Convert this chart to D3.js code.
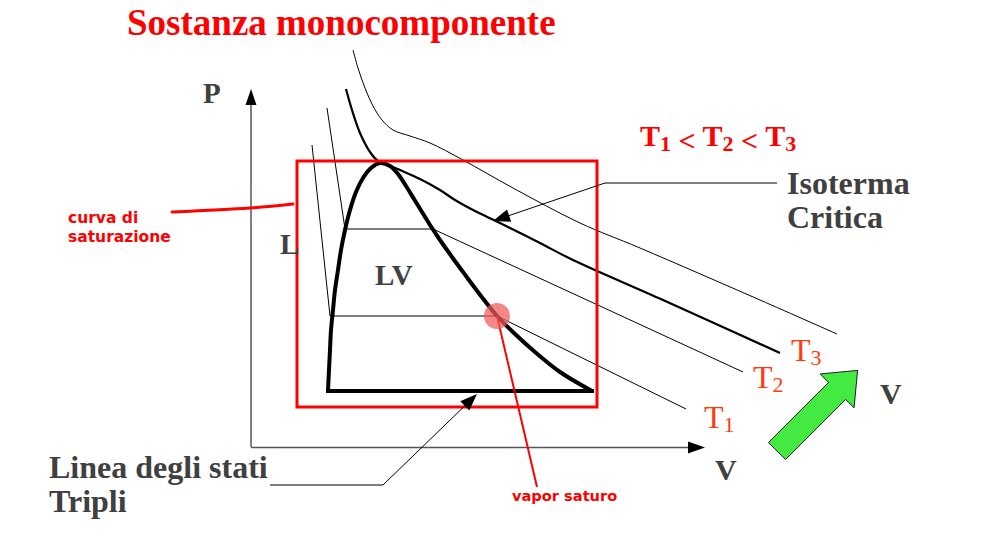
<!DOCTYPE html>
<html><head><meta charset="utf-8">
<script src="https://cdn.jsdelivr.net/npm/d3@7"></script>
<style>html,body{margin:0;padding:0;background:#fff;} svg{display:block;}</style>
</head><body><svg id="c" width="992" height="545"></svg>
<script>
// ---- data (abstract V, P units) ----
const saturationLeft = [[7.7,5.6],[7.8,7.7],[7.9,9.7],[8.0,11.7],[8.2,13.7],[8.4,15.7],[8.7,17.7],[9.0,19.7],[9.4,21.7],[9.9,23.7],[10.5,25.5],[11.2,26.9],[12.0,27.9],[12.9,28.4]];
const saturationRight = [[12.9,28.4],[13.9,28.1],[14.7,27.3],[15.5,26.1],[16.3,24.8],[17.1,23.5],[17.9,22.2],[18.9,20.7],[20.1,19.0],[21.5,17.1],[23.0,15.1],[24.6,13.1],[26.4,11.3],[28.4,9.5],[30.9,7.5],[34.1,5.6]];
const tripleLine = [[7.7,5.6],[34.1,5.6]];
const isothermT1 = [[6.1,30.2],[7.9,13.1],[24.6,13.1],[43.5,3.8]];
const isothermT2 = [[7.6,33.9],[9.4,21.8],[18.2,21.8],[49.2,7.5]];
const isothermCritical = [[9.5,35.8],[10.1,33.7],[10.9,31.4],[11.9,29.5],[12.7,28.6],[13.5,28.3],[14.9,27.7],[16.9,26.8],[18.9,25.7],[20.4,24.7],[22.4,23.6],[24.9,22.4],[28.9,20.4],[32.2,18.7],[41.2,14.7],[52.9,9.4]];
const isothermT3 = [[10.2,39.7],[10.7,37.9],[11.4,35.9],[12.2,34.1],[13.1,32.7],[14.2,31.7],[15.9,31.1],[17.9,30.4],[21.2,28.7],[26.2,25.9],[32.9,22.4],[38.9,19.9],[50.9,14.7],[58.6,11.3]];
const saturatedVapour = [24.6,13.1];
const highlightBox = [[4.6,28.6],[34.6,4.0]];
const criticalLeader = [[52.6,26.4],[35.4,26.4],[24.2,22.6]];
const tripleLeader = [[1.9,-3.8],[13.2,-3.8],[22.6,5.3]];
const vapourLeader = [[24.6,13.1],[28.6,-4.0]];
const saturationStroke = [[-7.9,23.5],[-0.1,23.9],[4.2,24.3]];
const axisMax = [45.4,35.8];
const isothermNames = ["T1","T2","T3"];

// ---- drawing ----
const svg = d3.select("#c");
svg.append("rect").attr("width",992).attr("height",545).attr("fill","#fff");
const x = d3.scaleLinear().domain([0,45.4]).range([251,705]);
const y = d3.scaleLinear().domain([0,35.8]).range([447,89]);
const lin = d3.line().x(d=>x(d[0])).y(d=>y(d[1]));
const cur = d3.line().x(d=>x(d[0])).y(d=>y(d[1])).curve(d3.curveCatmullRom.alpha(0.5));
const GREY = "#404040", SERIF = "'Liberation Serif','Times New Roman',serif", SANS="'DejaVu Sans',sans-serif";

function arrowHead(g, from, tip, len, hw, fill){
  const dx = tip[0]-from[0], dy = tip[1]-from[1], d = Math.hypot(dx,dy);
  const ux = dx/d, uy = dy/d;
  const bx = tip[0]-ux*len, by = tip[1]-uy*len;
  g.append("path").attr("d",`M${tip[0]},${tip[1]}L${bx-uy*hw},${by+ux*hw}L${bx+uy*hw},${by-ux*hw}Z`).attr("fill",fill);
}

// axes
const ax = svg.append("g");
ax.append("line").attr("x1",x(0)).attr("y1",y(0)).attr("x2",x(0)).attr("y2",y(axisMax[1])+15).attr("stroke","#000").attr("stroke-width",1);
arrowHead(ax,[x(0),y(0)],[x(0),y(axisMax[1])],16,5.5,"#000");
ax.append("line").attr("x1",x(0)).attr("y1",y(0)+0.5).attr("x2",x(axisMax[0])-15).attr("y2",y(0)+0.5).attr("stroke","#555").attr("stroke-width",1.3);
arrowHead(ax,[x(0),y(0)+0.5],[x(axisMax[0]),y(0)+0.5],17,6,"#000");

// isotherms
svg.append("path").attr("d",lin(isothermT1)).attr("fill","none").attr("stroke","#000").attr("stroke-width",1);
svg.append("path").attr("d",lin(isothermT2)).attr("fill","none").attr("stroke","#000").attr("stroke-width",1);
svg.append("path").attr("d",cur(isothermT3)).attr("fill","none").attr("stroke","#000").attr("stroke-width",1);
svg.append("path").attr("d",cur(isothermCritical)).attr("fill","none").attr("stroke","#000").attr("stroke-width",2.2);

// saturation dome
svg.append("path").attr("d",cur(saturationLeft.concat(saturationRight.slice(1)))).attr("fill","none").attr("stroke","#000").attr("stroke-width",4).attr("stroke-linejoin","round");
svg.append("path").attr("d",lin(tripleLine)).attr("fill","none").attr("stroke","#000").attr("stroke-width",4).attr("stroke-linecap","square");

// red box
svg.append("rect").attr("x",x(highlightBox[0][0])).attr("y",y(highlightBox[0][1]))
  .attr("width",x(highlightBox[1][0])-x(highlightBox[0][0])).attr("height",y(highlightBox[1][1])-y(highlightBox[0][1]))
  .attr("fill","none").attr("stroke","#ff0000").attr("stroke-width",3);

// leaders
const pts = a => a.map(d=>[x(d[0]),y(d[1])]);
const cl = pts(criticalLeader);
svg.append("path").attr("d",lin(criticalLeader.slice(0,2))+ "L" + (cl[2][0]+ (cl[1][0]-cl[2][0])*0.12) + "," + (cl[2][1]+(cl[1][1]-cl[2][1])*0.12)).attr("fill","none").attr("stroke","#000").attr("stroke-width",1);
arrowHead(svg,cl[1],cl[2],17,6.5,"#000");
const tl = pts(tripleLeader);
svg.append("path").attr("d",lin(tripleLeader.slice(0,2))+ "L" + (tl[2][0]+(tl[1][0]-tl[2][0])*0.1) + "," + (tl[2][1]+(tl[1][1]-tl[2][1])*0.1)).attr("fill","none").attr("stroke","#000").attr("stroke-width",1);
arrowHead(svg,tl[1],tl[2],17,6.5,"#000");

// red annotations
svg.append("path").attr("d",lin(vapourLeader)).attr("fill","none").attr("stroke","#ff0000").attr("stroke-width",2);
svg.append("path").attr("d",cur(saturationStroke)).attr("fill","none").attr("stroke","#ff0000").attr("stroke-width",3).attr("stroke-linecap","round");
svg.append("circle").attr("cx",x(saturatedVapour[0])).attr("cy",y(saturatedVapour[1])).attr("r",13).attr("fill","#f05a5a").attr("fill-opacity",0.72);

// green arrow
const ga = [[0,-12],[85,-12],[85,-24],[114,0],[85,24],[85,12],[0,12]];
svg.append("path").attr("d","M"+ga.map(p=>p.join(",")).join("L")+"Z")
  .attr("transform","translate(777,451) rotate(-45)")
  .attr("fill","#42ea42").attr("stroke","#000").attr("stroke-width",0.8);

// texts
function txt(t,px,py,size,fill,weight,fam){
  return svg.append("text").attr("x",px).attr("y",py).attr("font-size",size).attr("fill",fill)
    .attr("font-weight",weight||"bold").attr("font-family",fam||SERIF).text(t);
}
txt("Sostanza monocomponente",127,35,37,"#ff0000");
txt("P",203,103,29,GREY);
txt("V",715,480,30,GREY);
txt("V",880,404,30,GREY);
txt("L",280,254,29,GREY);
txt("LV",375,285,29,GREY);
txt("Isoterma",787,194,32,GREY);
txt("Critica",787,228,32,GREY);
txt("Linea degli stati",49,478,32,GREY);
txt("Tripli",49,512,32,GREY);
txt("curva di",68,223,15.5,"#ff0000","bold",SANS);
txt("saturazione",68,242,15.5,"#ff0000","bold",SANS);
txt("vapor saturo",512,501,14.6,"#ff0000","bold",SANS);

// T1 < T2 < T3
const order = svg.append("text").attr("x",640).attr("y",146).attr("font-family",SERIF).attr("font-weight","bold").attr("fill","#ff0000").attr("font-size",30);
isothermNames.forEach((n,i)=>{
  order.append("tspan").attr("font-size",30).attr("dy", i===0?0:-5).text(n[0]);
  order.append("tspan").attr("font-size",22).attr("dy",5).text(n[1]);
  if(i<2) order.append("tspan").attr("font-size",30).text(" < ");
});

// isotherm labels
const labelPos = [[704,428],[753,388],[791,361]];
isothermNames.forEach((n,i)=>{
  const t = svg.append("text").attr("x",labelPos[i][0]).attr("y",labelPos[i][1]).attr("font-family",SERIF).attr("fill","#ff3a10").attr("font-size",32);
  t.append("tspan").text(n[0]);
  t.append("tspan").attr("font-size",22).attr("dy",4).text(n[1]);
});
</script></body></html>
